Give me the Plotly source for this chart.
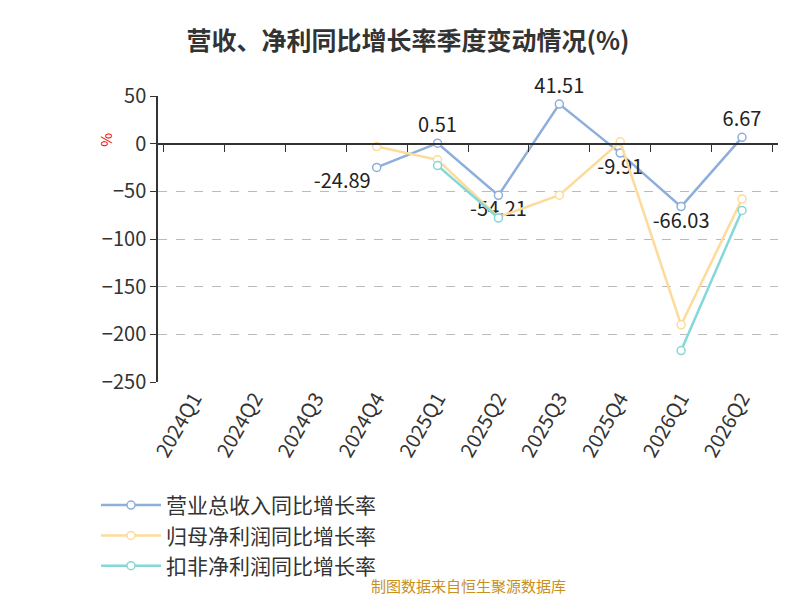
import plotly.graph_objects as go

quarters = ["2024Q1","2024Q2","2024Q3","2024Q4","2025Q1","2025Q2","2025Q3","2025Q4","2026Q1","2026Q2"]
revenue = [None, None, None, -24.89, 0.51, -54.21, 41.51, -9.91, -66.03, 6.67]
net_profit = [None, None, None, -3, -17, -77, -54, 2, -190, -58]
deducted = [None, None, None, None, -23, -78, None, None, -217, -70]
rev_text_pos = ["top center"]*3 + ["bottom left", "top center", "bottom center", "top center", "bottom center", "bottom center", "top center"]

def mk(color):
    return dict(size=8, color="white", line=dict(color=color, width=1.5))

fig = go.Figure()
fig.add_trace(go.Scatter(x=quarters, y=revenue, name="营业总收入同比增长率", mode="lines+markers+text",
    text=[None if v is None else f"{v:.2f}" for v in revenue], textposition=rev_text_pos,
    textfont=dict(size=20, color="#222"), cliponaxis=False,
    line=dict(color="#8eaedc", width=2.5), marker=mk("#8eaedc")))
fig.add_trace(go.Scatter(x=quarters, y=net_profit, name="归母净利润同比增长率", mode="lines+markers",
    line=dict(color="#fddb9a", width=2.5), marker=mk("#fddb9a"), cliponaxis=False))
fig.add_trace(go.Scatter(x=quarters, y=deducted, name="扣非净利润同比增长率", mode="lines+markers",
    line=dict(color="#84d8d8", width=2.5), marker=mk("#84d8d8"), cliponaxis=False))
fig.add_trace(go.Scatter(x=quarters, y=[None]*10, xaxis="x2", showlegend=False, hoverinfo="skip"))

fig.update_layout(
    width=800, height=600, plot_bgcolor="white", paper_bgcolor="white",
    font=dict(family="Noto Sans CJK SC, Noto Sans", size=20, color="#333"),
    title=dict(text="<b>营收、净利同比增长率季度变动情况(%)</b>", x=0.5, y=0.96, xanchor="center", font=dict(size=25, color="#333")),
    margin=dict(l=150, r=30, t=88, b=226),
    xaxis=dict(type="category", categoryorder="array", categoryarray=quarters, tickangle=-60, automargin=False,
               showgrid=False, showline=False, ticks="", tickfont=dict(size=20, color="#333")),
    xaxis2=dict(type="category", categoryorder="array", categoryarray=quarters, overlaying="x",
                anchor="free", position=250/300, showline=True, linecolor="#333", linewidth=1.5,
                ticks="outside", ticklen=8, tickcolor="#333", tickson="boundaries", showticklabels=False,
                showgrid=False, side="bottom", matches="x"),
    yaxis=dict(range=[-250, 50], dtick=50, showgrid=True, gridcolor="#bbb", griddash="dash", automargin=False,
               zeroline=False, showline=True, linecolor="#333", linewidth=1.5, ticks="outside",
               ticklen=6, tickcolor="#333", tickfont=dict(size=20, color="#333")),
    legend=dict(orientation="h", x=-0.1, y=-0.36, xanchor="left", yanchor="top", font=dict(size=21, color="#333"),
                entrywidth=330, entrywidthmode="pixels", itemwidth=60),
    annotations=[
        dict(text="%", x=-0.105, y=0.88, xref="paper", yref="paper", showarrow=False, textangle=-90,
             font=dict(size=15, color="red")),
        dict(text="制图数据来自恒生聚源数据库", x=0.5, xref="paper", y=-0.755, yref="paper", showarrow=False,
             font=dict(size=15, color="#c8901e")),
    ],
)
fig.write_html("out.html")
